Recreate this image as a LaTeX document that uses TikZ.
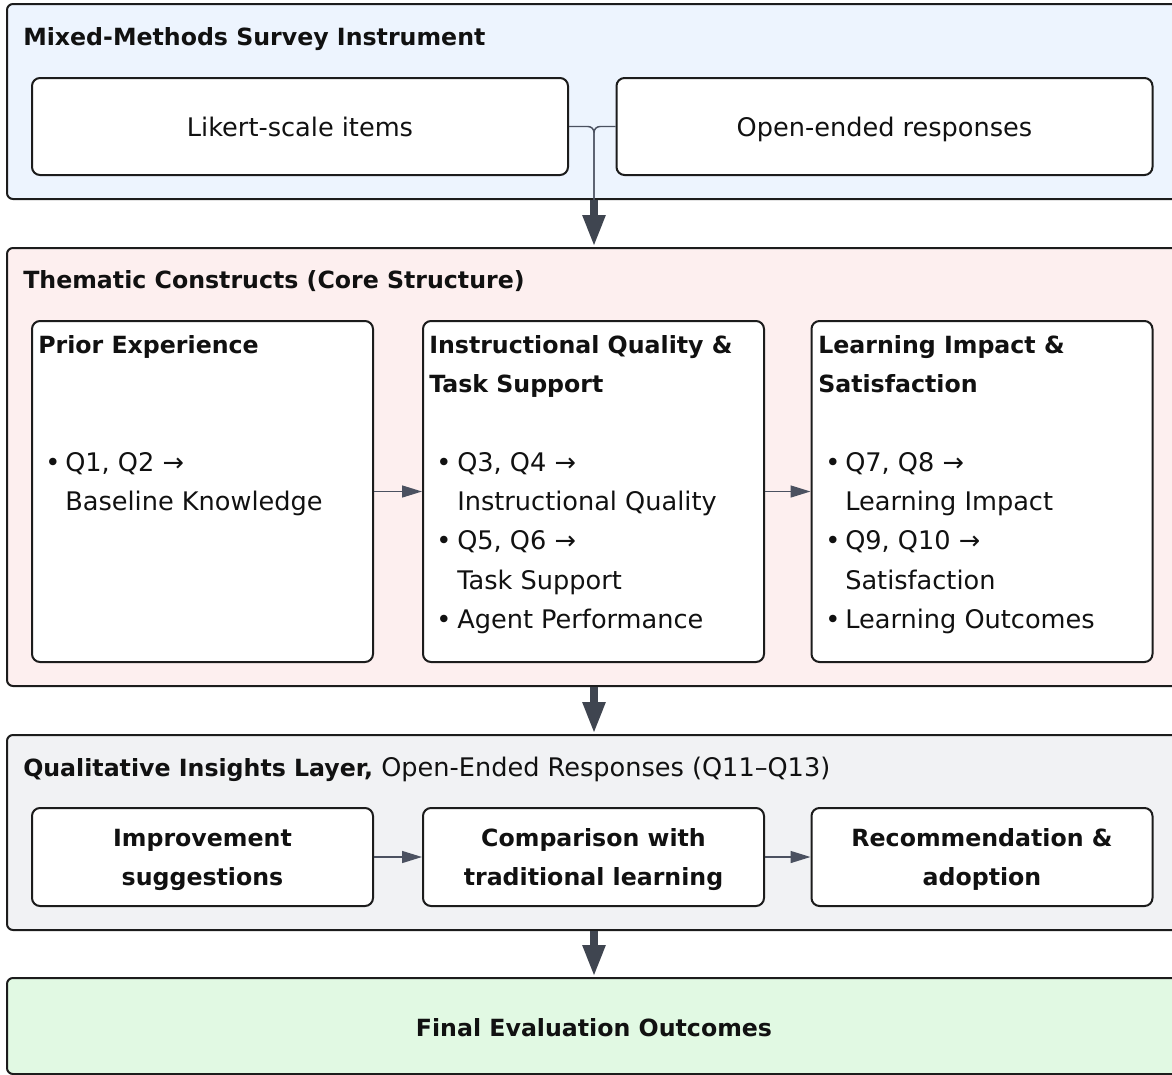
\documentclass[tikz,border=0pt]{standalone}
\usepackage{fontspec}
\setmainfont{DejaVu Sans}
\usetikzlibrary{arrows.meta}

\definecolor{layerblue}{HTML}{EDF4FE}
\definecolor{layerpink}{HTML}{FDEFEF}
\definecolor{layergray}{HTML}{F1F2F4}
\definecolor{layergreen}{HTML}{E1F9E3}
\definecolor{edgeline}{HTML}{1C1C1C}
\definecolor{inktext}{HTML}{111111}
\definecolor{connline}{HTML}{4B5160}
\definecolor{flowdark}{HTML}{3F4550}

\newcommand{\ra}{→}
\newcommand{\regfont}{\fontsize{19.2}{29.25}\selectfont}
\newcommand{\boldfont}{\fontsize{17.75}{29.25}\selectfont\bfseries}

\begin{document}
\begin{tikzpicture}[x=0.75pt,y=-0.75pt,
  every node/.style={text=inktext},
  font=\regfont,
  layer/.style={draw=edgeline,line width=1.5pt,rounded corners=4.5pt,
    minimum width=880.5pt,inner sep=0pt},
  card/.style={draw=edgeline,line width=1.5pt,rounded corners=6pt,fill=white,
    inner sep=0pt},
  wide card/.style={card,minimum width=402pt,minimum height=72.75pt,
    text height=18pt,text depth=3.5pt},
  tall card/.style={card,minimum width=255.75pt,minimum height=255.75pt},
  flat card/.style={card,minimum width=255.75pt,minimum height=73.5pt},
  card text/.style={anchor=base,font=\boldfont,inner sep=0pt},
  heading/.style={anchor=base west,inner sep=0pt,font=\boldfont},
  line/.style={anchor=base west,inner sep=0pt},
  conn/.style={draw=connline,line width=1.1pt},
  step arrow/.style={conn,-{Triangle[length=15pt,width=9pt]}},
  flow arrow/.style={draw=flowdark,fill=flowdark,line width=6pt,
    -{Triangle[length=24pt,width=15.75pt]}}]
\useasboundingbox (0,0) rectangle (1172,1075);
\clip (0,0) rectangle (1172,1075);

% ---------- layers ----------
\node[layer,fill=layerblue,minimum height=146.25pt] (survey) at (594,101.5) {};
\node[layer,fill=layerpink,minimum height=328.5pt] (themes) at (594,467) {};
\node[layer,fill=layergray,minimum height=146.25pt] (qual) at (594,832.5) {};
\node[layer,fill=layergreen,minimum height=72pt] (final) at (594,1026) {};
\node[card text] (finalT) at (594,1036) {Final Evaluation Outcomes};

% ---------- survey instrument ----------
\node[heading] (surveyT) at (23,45) {Mixed-Methods Survey Instrument};
\node[wide card] (likert) at (300,126.5) {Likert-scale items};
\node[wide card] (open) at (884.5,126.5) {Open-ended responses};

% ---------- thematic constructs ----------
\node[heading] (themesT) at (23,288) {Thematic Constructs (Core Structure)};
\node[tall card] (prior) at (202.5,491.5) {};
\node[tall card] (instr) at (593.5,491.5) {};
\node[tall card] (impact) at (982,491.5) {};

\node[heading] (priorT) at (38,353) {Prior Experience};
\node[line] (p1b) at (45,471) {•};
\node[line] (p1) at (65,471) {Q1, Q2 \ra};
\node[line] (p1c) at (65,510) {Baseline Knowledge};

\node[heading] (instrT1) at (429,353) {Instructional Quality \&};
\node[heading] (instrT2) at (429,392) {Task Support};
\node[line] (i1b) at (436,471) {•};
\node[line] (i1) at (457,471) {Q3, Q4 \ra};
\node[line] (i1c) at (457,510) {Instructional Quality};
\node[line] (i2b) at (436,549) {•};
\node[line] (i2) at (457,549) {Q5, Q6 \ra};
\node[line] (i2c) at (457,589) {Task Support};
\node[line] (i3b) at (436,628) {•};
\node[line] (i3) at (457,628) {Agent Performance};

\node[heading] (impactT1) at (818,353) {Learning Impact \&};
\node[heading] (impactT2) at (818,392) {Satisfaction};
\node[line] (m1b) at (825,471) {•};
\node[line] (m1) at (845,471) {Q7, Q8 \ra};
\node[line] (m1c) at (845,510) {Learning Impact};
\node[line] (m2b) at (825,549) {•};
\node[line] (m2) at (845,549) {Q9, Q10 \ra};
\node[line] (m2c) at (845,589) {Satisfaction};
\node[line] (m3b) at (825,628) {•};
\node[line] (m3) at (845,628) {Learning Outcomes};

% ---------- qualitative insights ----------
\node[line] (qualT) at (23,776) {{\boldfont Qualitative Insights Layer,} Open-Ended Responses (Q11–Q13)};
\node[flat card] (improve) at (202.5,857) {};
\node[flat card] (compare) at (593.5,857) {};
\node[flat card] (recommend) at (982,857) {};
\node[card text] (improveT1) at (202.5,846) {Improvement};
\node[card text] (improveT2) at (202.5,885) {suggestions};
\node[card text] (compareT1) at (593.5,846) {Comparison with};
\node[card text] (compareT2) at (593.5,885) {traditional learning};
\node[card text] (recommendT1) at (982,846) {Recommendation \&};
\node[card text] (recommendT2) at (982,885) {adoption};

% ---------- connectors ----------
\draw[conn,rounded corners=4.5pt] (likert.east) -| (survey.south);
\draw[conn,rounded corners=4.5pt] (open.west) -| (survey.south);
\draw[flow arrow] (survey.south) -- (themes.north);
\draw[flow arrow] (themes.south) -- (qual.north);
\draw[flow arrow] (qual.south) -- (final.north);

\draw[step arrow] (prior.east) -- (instr.west);
\draw[step arrow] (instr.east) -- (impact.west);
\draw[step arrow] (improve.east) -- (compare.west);
\draw[step arrow] (compare.east) -- (recommend.west);
\end{tikzpicture}
\end{document}
